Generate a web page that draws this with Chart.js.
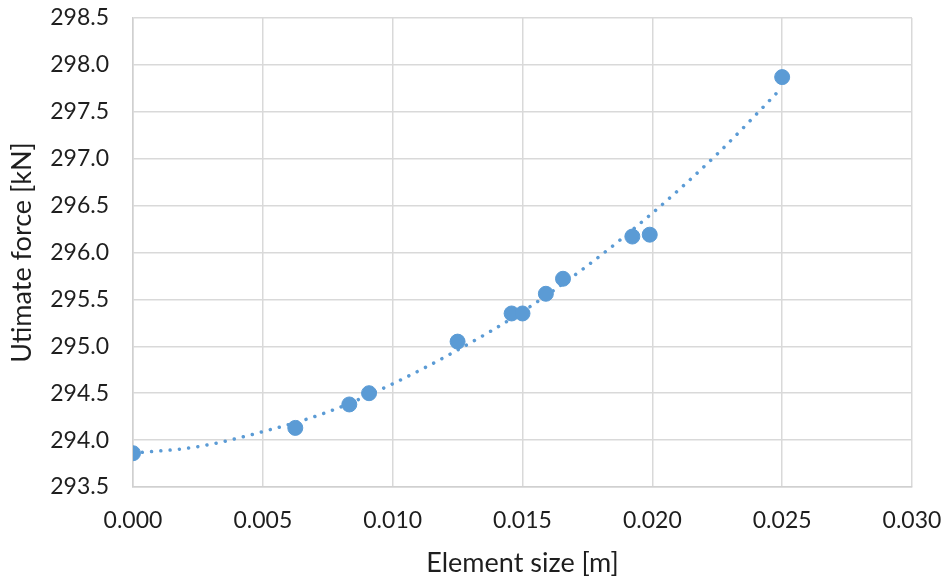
<!DOCTYPE html>
<html>
<head>
<meta charset="utf-8">
<script src="https://cdn.jsdelivr.net/npm/chart.js@4/dist/chart.umd.min.js"></script>
<style>
  html, body { margin: 0; padding: 0; background: #fff; }
  #wrap { width: 948px; height: 581px; position: relative; }
</style>
</head>
<body>
<div id="wrap"><canvas id="c" width="948" height="581"></canvas></div>
<script>
// Element size [m] of each model
const elementSize = [0.0, 0.00625, 0.00833, 0.00909, 0.0125, 0.01458, 0.015, 0.0159, 0.01656, 0.01923, 0.0199, 0.025];
// Ultimate force [kN]
const ultimateForce = [293.86, 294.13, 294.38, 294.50, 295.05, 295.35, 295.35, 295.56, 295.72, 296.17, 296.19, 297.87];
// Trendline
const trendX = [0.0, 0.0025, 0.005, 0.0075, 0.010, 0.0125, 0.015, 0.0175, 0.020, 0.0225, 0.025];
const trendY = [293.86, 293.93, 294.09, 294.30, 294.60, 294.96, 295.37, 295.86, 296.42, 297.05, 297.76];

const xTicks = { min: 0, max: 0.03, step: 0.005 };
const yTicks = { min: 293.5, max: 298.5, step: 0.5 };

const blue = '#5B9BD5';
const grid = '#d9d9d9';
const txt = '#1e1e1e';
const fam = 'Lato, "Open Sans", sans-serif';

new Chart(document.getElementById('c'), {
  type: 'scatter',
  data: {
    datasets: [
      {
        label: 'data',
        data: elementSize.map((x, i) => ({ x: x, y: ultimateForce[i] })),
        backgroundColor: blue,
        borderColor: blue,
        pointRadius: 7.5,
        pointHoverRadius: 7.5,
        order: 0
      },
      {
        label: 'trend',
        type: 'line',
        data: trendX.map((x, i) => ({ x: x, y: trendY[i] })),
        borderColor: blue,
        borderWidth: 3.5,
        borderDash: [0.01, 9.3],
        borderCapStyle: 'round',
        pointRadius: 0,
        fill: false,
        cubicInterpolationMode: 'monotone',
        order: 1
      }
    ]
  },
  options: {
    responsive: false,
    animation: false,
    devicePixelRatio: 1,
    layout: { padding: { left: 0, right: 36, top: 18, bottom: 0 } },
    plugins: { legend: { display: false }, tooltip: { enabled: false } },
    scales: {
      x: {
        type: 'linear',
        min: xTicks.min, max: xTicks.max,
        ticks: {
          stepSize: xTicks.step,
          color: txt,
          font: { family: fam, size: 23 },
          padding: 20,
          maxRotation: 0,
          callback: v => Number(v).toFixed(3)
        },
        grid: { color: grid, lineWidth: 1.5, drawTicks: false },
        border: { color: '#d0d0d0', width: 1.5 },
        title: {
          display: true,
          text: 'Element size [m]',
          color: txt,
          font: { family: fam, size: 27 },
          padding: { top: 0, bottom: 2 }
        },
        afterFit: s => { s.height = 94; s.paddingLeft = 0; s.paddingRight = 0; }
      },
      y: {
        type: 'linear',
        min: yTicks.min, max: yTicks.max,
        ticks: {
          stepSize: yTicks.step,
          color: txt,
          font: { family: fam, size: 23 },
          padding: 24,
          callback: v => Number(v).toFixed(1)
        },
        grid: { color: grid, lineWidth: 1.5, drawTicks: false },
        border: { color: '#d0d0d0', width: 1.5 },
        title: {
          display: true,
          text: 'Utimate force [kN]',
          color: txt,
          font: { family: fam, size: 27 },
          padding: { top: 6, bottom: 0 }
        },
        afterFit: s => { s.width = 133; s.paddingTop = 0; s.paddingBottom = 0; }
      }
    }
  }
});
</script>
</body>
</html>
